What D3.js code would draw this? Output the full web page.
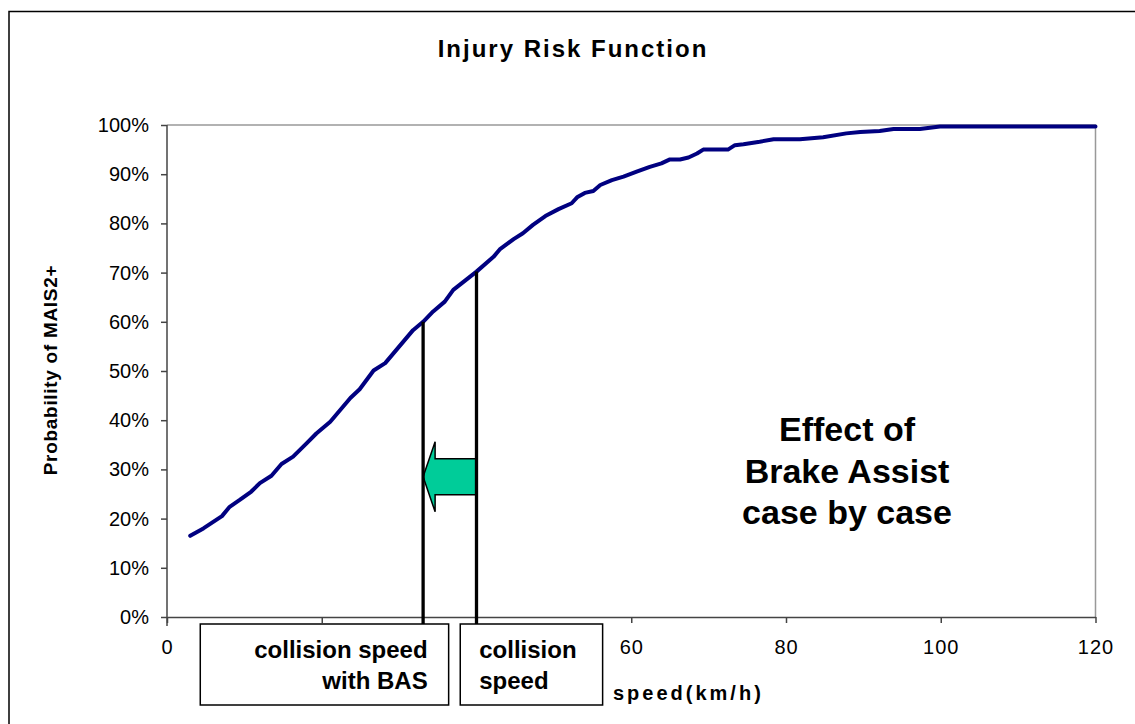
<!DOCTYPE html>
<html>
<head>
<meta charset="utf-8">
<script src="https://cdn.jsdelivr.net/npm/d3@7"></script>
<style>
  body { margin: 0; background: #fff; }
  text { font-family: Arial, 'Liberation Sans', sans-serif; }
</style>
</head>
<body>
<div id="chart"></div>
<script>
// injury risk curve (speed km/h, probability %)
const speeds = [3, 4.7, 7.1, 8.1, 9.4, 10.9, 12, 13.5, 14.8, 16.3, 18.1, 19.3, 21.1, 23.7, 24.9,
  26.7, 28.2, 31.8, 33.1, 34.4, 35.9, 37, 40, 42.2, 43, 44.8, 46, 47.3, 48.9, 50.6, 52.3, 53,
  54, 55.1, 56, 57.5, 59, 60.7, 62.4, 63.9, 65, 66.3, 67.4, 68.5, 69.3, 72.5, 73.4, 74.5, 76.6,
  78.4, 81.8, 84.8, 87.8, 89.6, 92.1, 93.9, 97.3, 99.9, 120];
const risk = [16.5, 18, 20.5, 22.4, 23.8, 25.5, 27.2, 28.7, 31.1, 32.6, 35.4, 37.3, 39.7, 44.5, 46.3,
  50.1, 51.6, 58.3, 60, 62.1, 64.1, 66.5, 70.2, 73.2, 74.7, 76.8, 78, 79.7, 81.5, 82.9, 84.1, 85.3,
  86.2, 86.6, 87.8, 88.8, 89.5, 90.5, 91.5, 92.2, 93, 93, 93.4, 94.2, 95, 95, 95.9, 96.1, 96.6,
  97.1, 97.1, 97.5, 98.3, 98.6, 98.8, 99.2, 99.2, 99.7, 99.7];

const xTicks = [0, 20, 40, 60, 80, 100, 120];
const xHiddenLabels = [20, 40]; // covered by the annotation boxes
const yTicks = [0, 10, 20, 30, 40, 50, 60, 70, 80, 90, 100];

// annotation markers
const markerSpeeds = [33.1, 40];        // with BAS, without
const markerRisk = [60, 70.2];
const arrowRisk = 28.5;
const boxSpeeds = [[4.3, 36.4], [37.9, 56.3]];
const boxLabels = [['collision speed', 'with BAS'], ['collision', 'speed']];
const effectLines = ['Effect of', 'Brake Assist', 'case by case'];

const width = 1135;
const height = 724;
const margin = { top: 125, right: 39.5, bottom: 107, left: 167 };

const x = d3.scaleLinear().domain([0, 120]).range([margin.left, width - margin.right]);
const y = d3.scaleLinear().domain([0, 100]).range([height - margin.bottom, margin.top]);

const svg = d3.select('#chart').append('svg')
  .attr('width', width)
  .attr('height', height);

svg.append('rect')
  .attr('width', width).attr('height', height)
  .attr('fill', '#fff');

// chart frame (only top and left visible)
svg.append('rect')
  .attr('x', 9).attr('y', 11.5)
  .attr('width', 1300).attr('height', 900)
  .attr('fill', 'none')
  .attr('stroke', '#000')
  .attr('stroke-width', 1.5);

svg.append('text')
  .attr('x', 573).attr('y', 57)
  .attr('text-anchor', 'middle')
  .attr('font-size', 24)
  .attr('font-weight', 'bold')
  .attr('letter-spacing', 2)
  .text('Injury Risk Function');

// plot border top / right
svg.append('path')
  .attr('d', `M${x(0)},${y(100)}H${x(120)}V${y(0)}`)
  .attr('fill', 'none')
  .attr('stroke', '#999')
  .attr('stroke-width', 1.5);

const yAxis = svg.append('g')
  .attr('transform', `translate(${x(0)},0)`)
  .call(d3.axisLeft(y).tickValues(yTicks).tickSize(6).tickSizeOuter(0)
    .tickPadding(12).tickFormat(d => `${d}%`));

const xAxis = svg.append('g')
  .attr('transform', `translate(0,${y(0)})`)
  .call(d3.axisBottom(x).tickValues(xTicks).tickSize(6).tickSizeOuter(0).tickPadding(17)
    .tickFormat(d => (xHiddenLabels.includes(d) ? '' : d)));

[yAxis, xAxis].forEach((g) => {
  g.attr('font-family', null).attr('font-size', null);
  g.selectAll('path, line').attr('stroke', '#444').attr('stroke-width', 1.5);
  g.selectAll('text').attr('font-size', 20).attr('fill', '#000');
});
xAxis.selectAll('text').attr('letter-spacing', 1);
// left axis runs a bit below the x axis
yAxis.select('.domain').attr('d', `M0,${y(100)}V${y(0) + 9}`);

svg.append('text')
  .attr('transform', `translate(52,370) rotate(-90)`)
  .attr('text-anchor', 'middle')
  .attr('dominant-baseline', 'middle')
  .attr('font-size', 19)
  .attr('font-weight', 'bold')
  .attr('letter-spacing', 0.7)
  .text('Probability of MAIS2+');

svg.append('text')
  .attr('x', 613).attr('y', 700)
  .attr('font-size', 20)
  .attr('font-weight', 'bold')
  .attr('letter-spacing', 3)
  .text('speed(km/h)');

const line = d3.line()
  .x(d => x(d[0]))
  .y(d => y(d[1]));

svg.append('path')
  .datum(d3.zip(speeds, risk))
  .attr('d', line)
  .attr('fill', 'none')
  .attr('stroke', '#000080')
  .attr('stroke-width', 4)
  .attr('stroke-linejoin', 'round')
  .attr('stroke-linecap', 'round');

// arrow from collision speed back to speed with BAS
const ax0 = x(markerSpeeds[1]);
const ax1 = x(markerSpeeds[0]);
const ay = y(arrowRisk);
const headLen = 12;
const shaftH = 18;
const headH = 35;
svg.append('path')
  .attr('d', `M${ax0},${ay - shaftH}H${ax1 + headLen}V${ay - headH}L${ax1},${ay}`
    + `L${ax1 + headLen},${ay + headH}V${ay + shaftH}H${ax0}Z`)
  .attr('fill', '#00CC99')
  .attr('stroke', '#000')
  .attr('stroke-width', 1.5);

svg.selectAll('line.marker')
  .data(markerSpeeds)
  .enter().append('line')
  .attr('class', 'marker')
  .attr('x1', d => x(d)).attr('x2', d => x(d))
  .attr('y1', (d, i) => y(markerRisk[i]))
  .attr('y2', y(0) + 8)
  .attr('stroke', '#000')
  .attr('stroke-width', 3.3);

const boxTop = y(0) + 7;
const boxBottom = y(0) + 88;
const boxes = svg.selectAll('g.box')
  .data(boxSpeeds)
  .enter().append('g')
  .attr('class', 'box');

boxes.append('rect')
  .attr('x', d => x(d[0]))
  .attr('y', boxTop)
  .attr('width', d => x(d[1]) - x(d[0]))
  .attr('height', boxBottom - boxTop)
  .attr('fill', '#fff')
  .attr('stroke', '#000')
  .attr('stroke-width', 1.5);

boxes.each(function (d, i) {
  const right = i === 0;
  const tx = right ? x(d[1]) - 21 : x(d[0]) + 19;
  d3.select(this).selectAll('text')
    .data(boxLabels[i])
    .enter().append('text')
    .attr('x', tx)
    .attr('y', (t, j) => boxTop + 34 + j * 31)
    .attr('text-anchor', right ? 'end' : 'start')
    .attr('font-size', 24)
    .attr('font-weight', 'bold')
    .text(t => t);
});

svg.selectAll('text.effect')
  .data(effectLines)
  .enter().append('text')
  .attr('class', 'effect')
  .attr('x', 847)
  .attr('y', (d, i) => 441 + i * 41.5)
  .attr('text-anchor', 'middle')
  .attr('font-size', 34)
  .attr('font-weight', 'bold')
  .text(d => d);
</script>
</body>
</html>
